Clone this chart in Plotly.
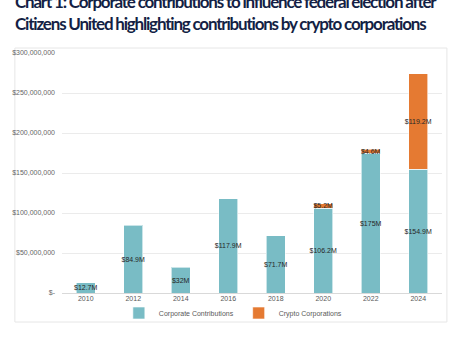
import plotly.graph_objects as go

years = ["2010", "2012", "2014", "2016", "2018", "2020", "2022", "2024"]
corporate = [12.7, 84.9, 32, 117.9, 71.7, 106.2, 175, 154.9]  # $M
crypto = [None, None, None, None, None, 5.2, 4.6, 119.2]  # $M
y_ticks = [0, 50, 100, 150, 200, 250, 300]
y_tick_labels = ["$-", "$50,000,000", "$100,000,000", "$150,000,000",
                 "$200,000,000", "$250,000,000", "$300,000,000"]

TEAL = "rgb(121,188,197)"
ORANGE = "rgb(229,122,50)"

def lab(v):
    return "" if v is None else f"${v:g}M"

fig = go.Figure()
for vals, name, col in [(corporate, "Corporate Contributions", TEAL),
                        (crypto, "Crypto Corporations", ORANGE)]:
    fig.add_trace(go.Bar(
        x=years, y=vals, name=name,
        marker=dict(color=col, line=dict(color="rgba(255,255,255,0.6)", width=1)),
        text=[lab(v) for v in vals], textposition="inside", textangle=0,
        insidetextanchor="middle",
        textfont=dict(family="Liberation Sans, Arial", size=7, color="#262626"),
    ))

fig.update_layout(
    width=454, height=341,
    margin=dict(l=55, r=12, t=53, b=48),
    barmode="stack", bargap=0.59,
    paper_bgcolor="white", plot_bgcolor="white",
    uniformtext=dict(minsize=7, mode="show"),
    font=dict(family="Liberation Sans, Arial", size=7, color="#595959"),
    showlegend=True,
    legend=dict(orientation="h", x=(229 - 55) / 387, xanchor="center",
                y=(293 - 313) / 240, yanchor="middle", traceorder="normal",
                font=dict(size=7, color="#595959"), itemwidth=30,
                bgcolor="rgba(0,0,0,0)"),
    xaxis=dict(showgrid=False, showline=False, ticks="", tickfont=dict(size=7, color="#595959")),
    yaxis=dict(range=[0, 300], tickvals=y_ticks, ticktext=y_tick_labels,
               showgrid=True, gridcolor="#ebebeb", gridwidth=1,
               zeroline=True, zerolinecolor="#d9d9d9", zerolinewidth=1,
               ticks="", ticklabelstandoff=6,
               tickfont=dict(size=7, color="#666666")),
)

# chart frame
fig.add_shape(type="rect", xref="paper", yref="paper",
              x0=(7 - 55) / 387, x1=(447 - 55) / 387,
              y0=(293 - 322) / 240, y1=(293 - 48) / 240,
              line=dict(color="#e6e6e6", width=1), fillcolor="rgba(0,0,0,0)",
              layer="below")

sp = '<span style="letter-spacing:-1.2px">'
fig.add_annotation(
    xref="paper", yref="paper", x=(5 - 55) / 387, y=(293 - 36) / 240,
    xanchor="left", yanchor="bottom", align="left", showarrow=False,
    text=f"<b>{sp}Chart 1: Corporate contributions to influence federal election after</span><br>"
         f"{sp}Citizens United highlighting contributions by crypto corporations</span></b>",
    font=dict(family="Lato", size=17, color="#141f45"),
)

fig.write_html("out.html")
